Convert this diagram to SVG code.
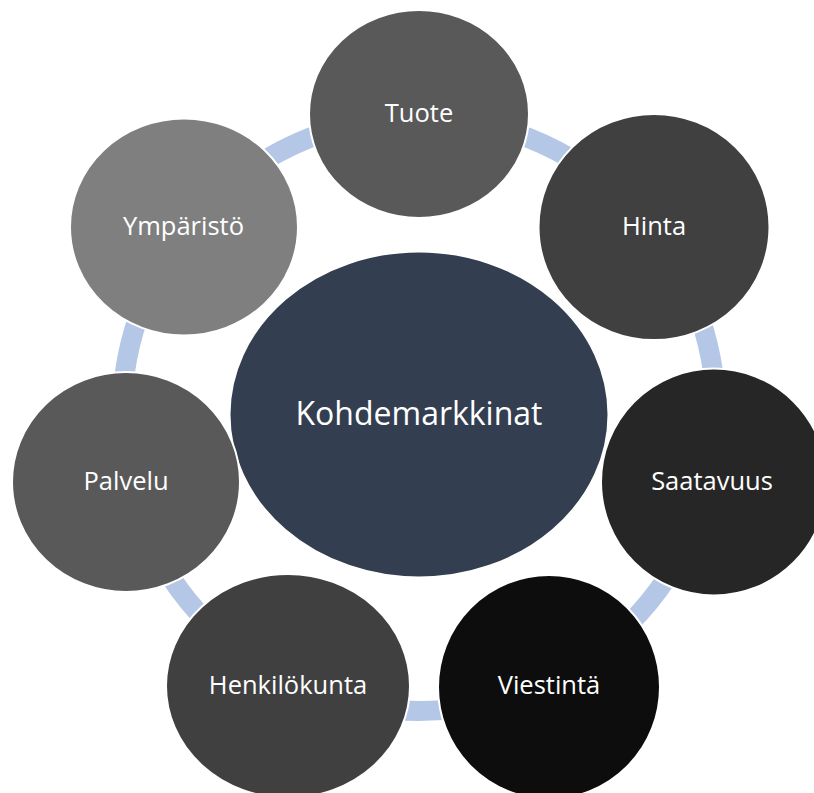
<svg xmlns="http://www.w3.org/2000/svg" width="814" height="793" viewBox="0 0 814 793">
<style>
  .node { stroke: #FFFFFF; stroke-width: 2; }
  .lbl { font-family: "Open Sans", "Noto Sans", "Liberation Sans", sans-serif; font-size: 25.5px; fill: #FFFFFF; text-anchor: middle; }
  .big { font-size: 32px; }
  .ring { fill: none; stroke: #B4C7E7; stroke-width: 20; }
</style>
<rect x="0" y="0" width="814" height="793" fill="#FFFFFF"/>
<g id="connectors">
  <circle class="ring" cx="419" cy="414" r="297"/>
</g>
<g id="kohdemarkkinat">
  <ellipse class="node" cx="419" cy="414.5" rx="189.5" ry="163" fill="#333F50"/>
  <text class="lbl big" x="419" y="425">Kohdemarkkinat</text>
</g>
<g id="tuote">
  <ellipse class="node" cx="419" cy="114" rx="110" ry="104" fill="#595959"/>
  <text class="lbl" x="419" y="122">Tuote</text>
</g>
<g id="hinta">
  <ellipse class="node" cx="654" cy="227" rx="115.5" ry="113" fill="#404040"/>
  <text class="lbl" x="654" y="235">Hinta</text>
</g>
<g id="saatavuus">
  <ellipse class="node" cx="714" cy="482" rx="113" ry="113.5" fill="#262626"/>
  <text class="lbl" x="712" y="490">Saatavuus</text>
</g>
<g id="viestinta">
  <ellipse class="node" cx="549" cy="687" rx="111" ry="112" fill="#0D0D0D"/>
  <text class="lbl" x="549" y="693.5">Viestintä</text>
</g>
<g id="henkilokunta">
  <ellipse class="node" cx="288" cy="686" rx="122" ry="112" fill="#404040"/>
  <text class="lbl" x="288" y="693.5">Henkilökunta</text>
</g>
<g id="palvelu">
  <ellipse class="node" cx="126" cy="482" rx="114" ry="110" fill="#595959"/>
  <text class="lbl" x="126" y="490">Palvelu</text>
</g>
<g id="ymparisto">
  <ellipse class="node" cx="184" cy="227" rx="114" ry="108.5" fill="#7F7F7F"/>
  <text class="lbl" x="183.5" y="235">Ympäristö</text>
</g>
</svg>
